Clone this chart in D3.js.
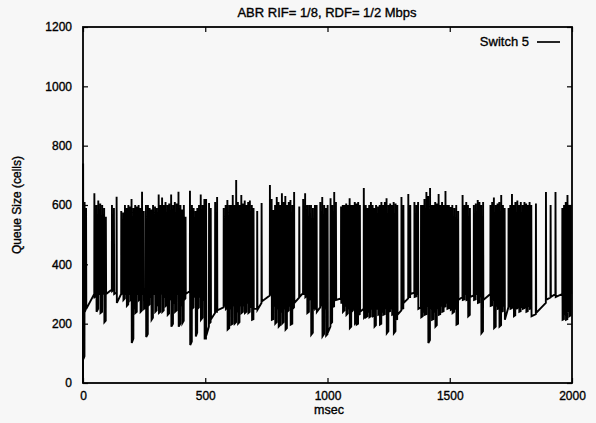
<!DOCTYPE html>
<html>
<head>
<meta charset="utf-8">
<script src="https://cdn.jsdelivr.net/npm/d3@7/dist/d3.min.js"></script>
<style>
  html, body { margin: 0; padding: 0; background: #f7f7f7; }
  svg { display: block; }
  text { font-family: "Liberation Sans", Arial, sans-serif; fill: #000; stroke: #000; stroke-width: 0.35px; }
</style>
</head>
<body>
<svg id="chart" width="596" height="423"></svg>
<script>
// ---- Data ----
const title = "ABR RIF= 1/8, RDF= 1/2 Mbps";
const xLabel = "msec";
const yLabel = "Queue Size (cells)";
const seriesName = "Switch 5";
const xTicks = [0, 500, 1000, 1500, 2000];
const yTicks = [0, 200, 400, 600, 800, 1000, 1200];

// Each spike: [msec, queue before rise, peak queue, queue after drop]
const seg1 = [
  [0,0,740,80],[6,90,610,240],[12,250,590,250],
  [46,300,640,290],[54,295,600,240],[62,250,615,300],[70,300,605,236],[78,240,600,300],
  [86,305,590,205],[93,210,560,300],
  [118,315,600,310],[126,315,590,300],[137,305,628,270],
  [156,300,580,300],[164,305,575,280],[171,285,600,300],[178,300,590,260],[185,265,600,300],
  [192,300,595,280],[198,285,620,135],[206,150,590,250],[213,255,600,236],[220,240,595,300],
  [227,300,600,280],[234,285,590,240],[241,245,645,300],[248,300,580,250],[257,255,600,155],
  [265,165,600,260],[272,265,590,290],[279,290,585,213],[286,220,600,300],[294,300,595,240],
  [301,245,590,260],[309,265,635,236],[316,240,600,300],[323,305,625,240],[330,245,600,290],
  [337,290,610,260],[345,265,600,230],[352,235,605,280],[360,285,635,190],[368,200,600,270],
  [375,275,610,240],[383,245,605,300],[390,300,645,190],[398,200,600,260],[405,265,585,202],
  [412,210,600,280],[419,285,560,300],
  [437,310,648,128],[445,140,600,250],[452,255,590,290],[460,295,580,157],[467,170,590,250],
  [474,255,600,290],[481,295,635,213],[489,220,600,280],[496,285,620,150]
];
const seg2 = [
  [503,150,620,160],[515,190,607,200],[522,205,590,215],
  [540,236,610,240],[548,240,627,245],
  [575,255,590,260],[583,262,600,250],[590,255,617,180],[598,185,600,250],[605,255,600,197],
  [612,200,634,260],[619,265,600,200],[626,205,684,240],[633,245,610,200],[640,205,600,260],
  [647,265,634,236],[654,240,605,260],[661,265,615,236],[668,240,600,270],[675,270,610,236],
  [682,240,615,255],[690,260,600,213],[697,215,590,250],
  [712,250,580,247],
  [730,270,607,275],
  [764,295,667,300],[771,300,620,213],[778,215,583,260],[785,260,600,200],[792,205,627,250],
  [799,255,610,190],[806,195,600,240],[813,245,640,200],[820,205,610,250],[827,255,630,180],
  [834,185,600,240],[841,245,610,260],[848,262,617,197],[856,200,600,250],[863,255,644,270],
  [884,288,595,290],
  [900,303,620,300],[908,300,640,290],[916,295,600,236],[924,240,600,280],[932,285,600,163],
  [940,170,590,250],[948,255,600,250],[955,255,600,240],
  [970,255,610,260],[978,265,627,157],[986,165,600,250],[993,255,590,160]
];
const seg3 = [
  [1000,165,600,170],
  [1012,190,623,200],[1019,205,600,256],[1027,258,644,280],[1034,280,610,280],
  [1055,285,595,270],[1062,270,600,240],[1069,245,600,260],[1076,262,605,230],[1083,235,600,250],
  [1090,255,623,185],[1097,190,600,240],[1104,245,600,250],[1111,250,610,200],[1118,205,605,197],
  [1125,200,610,230],[1132,232,600,240],
  [1148,250,657,220],[1156,225,600,222],[1163,225,590,240],[1170,240,600,222],[1177,225,610,250],
  [1184,250,600,225],[1191,228,590,190],[1198,195,600,250],[1206,252,595,230],[1213,232,600,197],
  [1220,200,610,240],[1227,242,600,230],[1234,232,610,250],[1241,252,623,168],[1249,175,600,240],
  [1256,242,605,250],[1263,252,600,230],[1270,232,610,168],[1278,175,605,213],[1285,215,600,230],
  [1302,245,627,250],[1310,252,600,270],
  [1330,285,637,290],[1338,290,600,300],
  [1355,305,610,290],[1363,292,600,300],[1370,300,610,250],
  [1382,255,600,222],[1389,225,600,240],[1396,242,620,230],[1404,232,644,260],[1411,262,630,135],
  [1419,145,657,250],[1426,252,600,213],[1433,215,600,240],[1440,242,610,190],[1447,195,605,250],
  [1454,252,637,230],[1461,232,600,260],[1468,262,610,240],[1475,242,600,256],[1482,258,647,270],
  [1489,272,600,250],[1496,252,600,260]
];
const seg4 = [
  [1503,250,593,247],[1510,250,600,236],[1518,240,590,250],[1526,252,600,197],[1534,200,580,280],
  [1552,290,634,280],[1560,282,600,300],[1567,300,610,280],[1574,282,600,225],[1582,230,590,290],
  [1598,295,600,280],[1606,282,605,300],[1614,300,617,270],[1621,272,610,290],[1628,292,600,168],
  [1636,175,610,280],
  [1666,300,600,260],[1673,262,610,280],[1680,282,625,185],[1688,190,600,260],[1695,262,605,250],
  [1702,252,610,190],[1710,195,634,240],[1717,242,600,260],[1724,262,590,213],
  [1740,256,590,260],[1747,262,600,250],[1754,252,637,256],[1761,258,600,225],[1768,228,610,250],
  [1776,252,615,256],[1783,258,600,240],[1790,242,610,256],[1798,258,600,250],[1805,252,610,256],
  [1812,258,605,240],[1819,242,600,260],[1826,262,610,250],[1833,252,600,225],
  [1852,232,605,236],
  [1893,270,644,280],
  [1912,288,600,290],
  [1932,300,644,290],
  [1960,300,590,213],[1967,215,600,230],[1974,232,610,213],[1981,215,634,240],[1988,242,600,225],
  [1995,228,600,300]
];

// ---- Layout ----
const svg = d3.select("#chart");
const mLeft = 83, mRight = 572, mTop = 27, mBottom = 383;
const x = d3.scaleLinear().domain([0, 2000]).range([mLeft, mRight]);
const y = d3.scaleLinear().domain([0, 1200]).range([mBottom, mTop]);

// series path
const spikes = [].concat(seg1, seg2, seg3, seg4);
const pts = [];
spikes.forEach(s => {
  pts.push([s[0], s[1]]);
  pts.push([s[0] + 0.5, s[2]]);
  pts.push([s[0] + 1.5, s[3]]);
});
const line = d3.line().x(d => x(d[0])).y(d => y(d[1]));

svg.append("path")
  .datum(pts)
  .attr("d", line)
  .attr("fill", "none")
  .attr("stroke", "#000")
  .attr("stroke-width", 1.9)
  .attr("stroke-linejoin", "miter");

// axes (ticks inward, gnuplot style)
const tickLen = 5;
svg.append("g").attr("transform", `translate(0,${mBottom})`)
  .call(d3.axisBottom(x).tickValues(xTicks).tickSize(-tickLen).tickPadding(8).tickFormat(d3.format("d")))
  .call(g => g.select(".domain").remove());
svg.append("g").attr("transform", `translate(0,${mTop})`)
  .call(d3.axisTop(x).tickValues(xTicks).tickSize(-tickLen).tickFormat(""))
  .call(g => g.select(".domain").remove());
svg.append("g").attr("transform", `translate(${mLeft},0)`)
  .call(d3.axisLeft(y).tickValues(yTicks).tickSize(-tickLen).tickPadding(11).tickFormat(d3.format("d")))
  .call(g => g.select(".domain").remove());
svg.append("g").attr("transform", `translate(${mRight},0)`)
  .call(d3.axisRight(y).tickValues(yTicks).tickSize(-tickLen).tickFormat(""))
  .call(g => g.select(".domain").remove());

svg.selectAll(".tick line").attr("stroke", "#000").attr("stroke-width", 1.2);
svg.selectAll(".tick text")
  .style("font-family", "'Liberation Sans', Arial, sans-serif")
  .style("font-size", "12px")
  .attr("fill", "#000");

// frame
svg.append("rect")
  .attr("x", mLeft).attr("y", mTop)
  .attr("width", mRight - mLeft).attr("height", mBottom - mTop)
  .attr("fill", "none").attr("stroke", "#000").attr("stroke-width", 1.8);

// title & axis labels
svg.append("text").attr("x", 327).attr("y", 17)
  .attr("text-anchor", "middle").style("font-size", "13px")
  .text(title);
svg.append("text").attr("x", 329).attr("y", 414)
  .attr("text-anchor", "middle").style("font-size", "12.5px")
  .text(xLabel);
svg.append("text")
  .attr("transform", `translate(21,205) rotate(-90)`)
  .attr("text-anchor", "middle").style("font-size", "12px")
  .text(yLabel);

// legend
svg.append("text").attr("x", 529).attr("y", 46)
  .attr("text-anchor", "end").style("font-size", "13px")
  .text(seriesName);
svg.append("line").attr("x1", 537).attr("x2", 560).attr("y1", 42).attr("y2", 42)
  .attr("stroke", "#000").attr("stroke-width", 1.7);
</script>
</body>
</html>
